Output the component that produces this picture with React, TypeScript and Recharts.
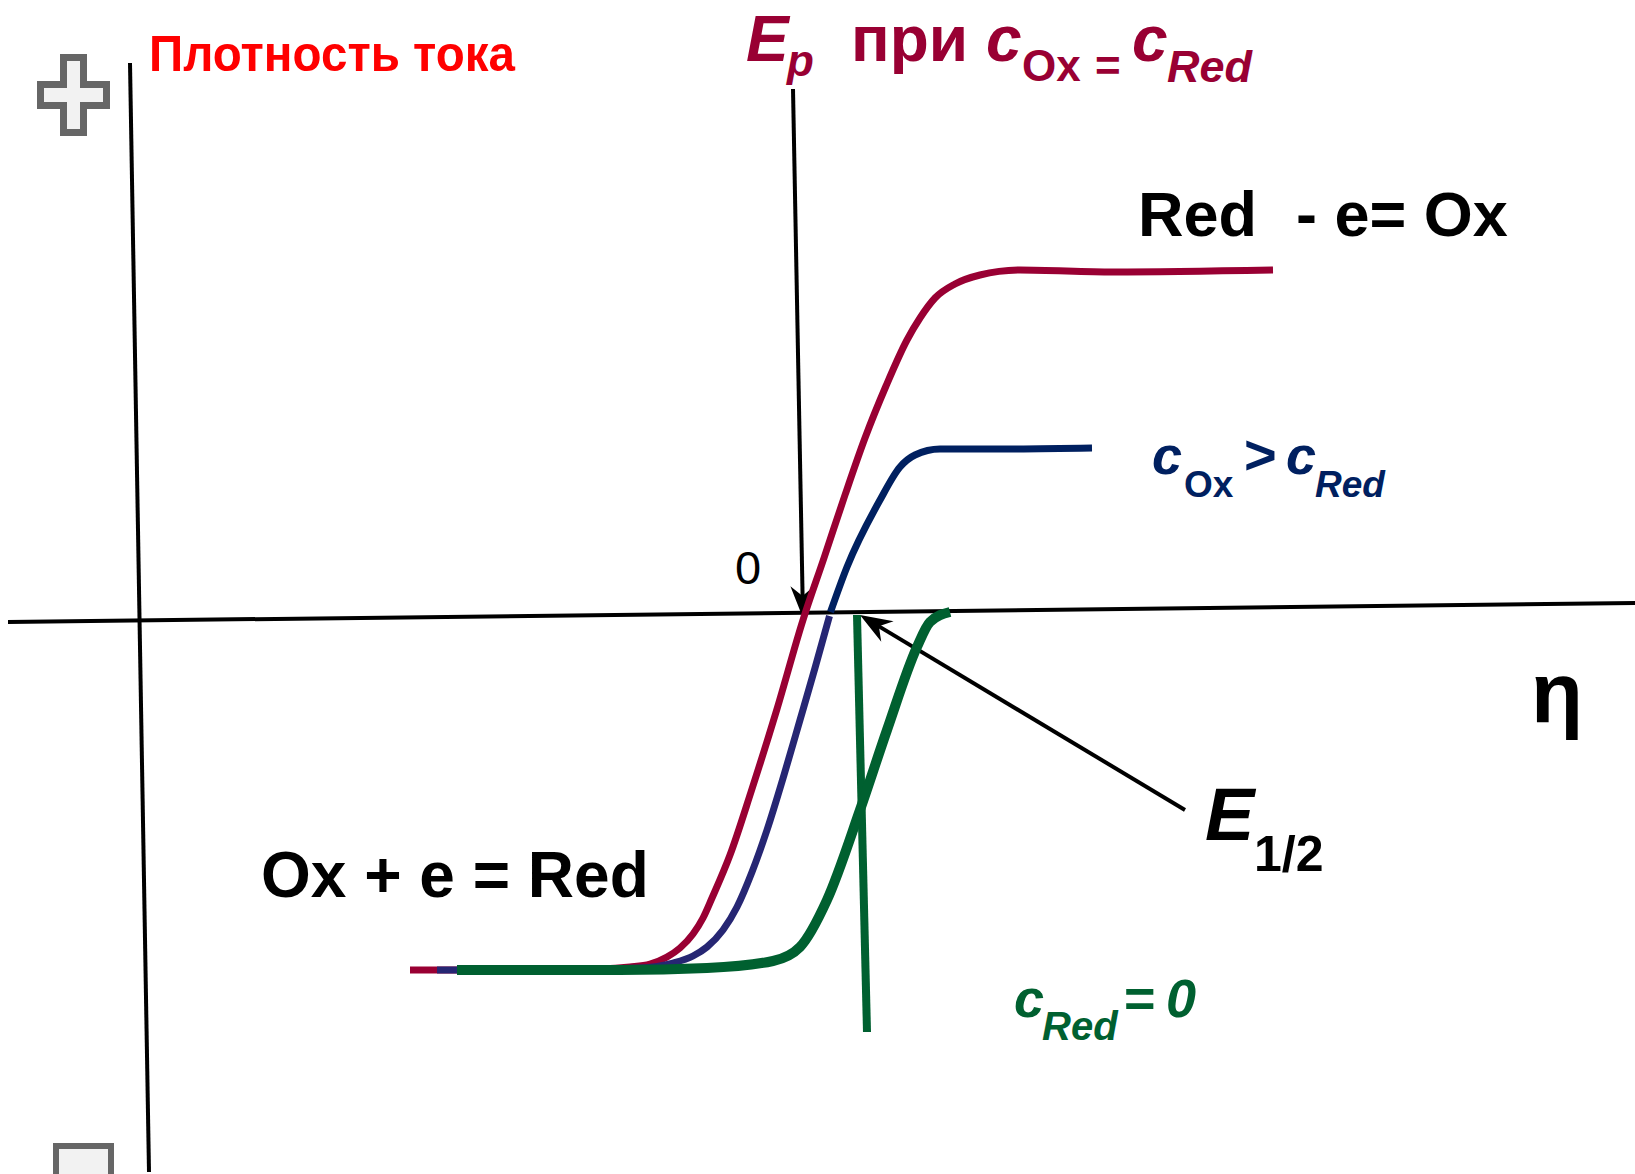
import { ComposedChart, Line, XAxis, YAxis, ReferenceLine } from "recharts"

const W = 1635
const H = 1174

// potential (η) and current density, arbitrary units
const X_DOMAIN: [number, number] = [-16, 16.7]
const Y_DOMAIN: [number, number] = [-11.2, 12.28]

// c_Ox = c_Red : full wave, cathodic -> anodic
const redX = [-7.8, -6.0, -4.0, -3.4, -3.0, -2.66, -2.4, -2.14, -1.94, -1.76, -1.4, -0.98, -0.46, 0.06, 0.48, 0.9, 1.3, 1.72, 2.14, 2.4, 2.7, 3.1, 3.6, 4.4, 6.26, 9.46]
const redY = [-7.12, -7.12, -7.1, -7.06, -7.0, -6.86, -6.68, -6.4, -6.08, -5.68, -4.82, -3.56, -1.9, -0.12, 1.12, 2.38, 3.52, 4.56, 5.48, 5.92, 6.32, 6.6, 6.78, 6.88, 6.84, 6.88]

// c_Ox > c_Red : cathodic branch and anodic branch
const blueLowX = [-7.26, -4.8, -3.2, -2.54, -2.14, -1.86, -1.54, -1.26, -0.96, -0.66, -0.32, 0.0, 0.3, 0.59]
const blueLowY = [-7.12, -7.12, -7.08, -6.98, -6.84, -6.66, -6.32, -5.86, -5.16, -4.32, -3.22, -2.12, -1.08, -0.04]
const blueHighX = [0.61, 0.94, 1.6, 2.0, 2.3, 2.8, 4.0, 5.84]
const blueHighY = [0.04, 0.94, 2.28, 2.94, 3.18, 3.3, 3.3, 3.32]

// c_Red = 0 : cathodic wave only
const greenX = [-6.86, -3.6, -1.86, -0.54, 0.0, 0.54, 1.2, 1.74, 2.34, 2.6, 3.0]
const greenY = [-7.12, -7.12, -7.08, -6.94, -6.66, -5.72, -3.92, -2.32, -0.66, -0.16, 0.04]

// axes and guide lines (segment ends)
const yAxisLine = [{ x: -13.4, y: 11.02 }, { x: -13.02, y: -11.16 }]
const xAxisLine = [{ x: -15.84, y: -0.16 }, { x: 16.7, y: 0.22 }]
const halfWaveLine = [{ x: 1.14, y: -0.02 }, { x: 1.34, y: -8.36 }]
const epArrow = [{ x: -0.14, y: 10.5 }, { x: 0.06, y: -0.08 }]
const e12Arrow = [{ x: 7.7, y: -3.92 }, { x: 1.2, y: -0.02 }]

const zip = (xs: number[], ys: number[]) => xs.map((x, i) => ({ x, y: ys[i] }))

const redData = zip(redX, redY)
const blueLowData = zip(blueLowX, blueLowY)
const blueHighData = zip(blueHighX, blueHighY)
const greenData = zip(greenX, greenY)

const RED = "#990033"
const NAVY = "#002060"
const INDIGO = "#262673"
const GREEN = "#006030"

const sans = "'Liberation Sans', Arial, Helvetica, sans-serif"
const narrow = "'Liberation Sans Narrow', 'Arial Narrow', 'Liberation Sans', sans-serif"

function ArrowLine(props: any) {
  const { x1, y1, x2, y2, stroke, strokeWidth } = props
  const dx = x2 - x1
  const dy = y2 - y1
  const len = Math.hypot(dx, dy) || 1
  const ux = dx / len
  const uy = dy / len
  const head = 32
  const half = 12
  const notch = 22
  const bx = x2 - ux * head
  const by = y2 - uy * head
  const px = -uy
  const py = ux
  const pts = [
    [x2, y2],
    [bx + px * half, by + py * half],
    [x2 - ux * notch, y2 - uy * notch],
    [bx - px * half, by - py * half],
  ]
    .map((p) => p.join(","))
    .join(" ")
  return (
    <g>
      <line x1={x1} y1={y1} x2={x2 - ux * 10} y2={y2 - uy * 10} stroke={stroke} strokeWidth={strokeWidth} />
      <polygon points={pts} fill={stroke} />
    </g>
  )
}

function Labels() {
  const b = { fontFamily: sans, fontWeight: 700 }
  const bi = { ...b, fontStyle: "italic" as const }
  return (
    <svg width={W} height={H} style={{ position: "absolute", left: 0, top: 0, pointerEvents: "none" }}>
      {/* zoom buttons */}
      <polygon
        points="63.5,57.5 83.5,57.5 83.5,84.5 106.5,84.5 106.5,105.5 83.5,105.5 83.5,132.5 63.5,132.5 63.5,105.5 40.5,105.5 40.5,84.5 63.5,84.5"
        fill="#f2f2f2"
        stroke="#666666"
        strokeWidth={7}
      />
      <rect x={56} y={1146} width={55} height={34} fill="#f2f2f2" stroke="#666666" strokeWidth={6} />

      <text x={149} y={71} fontSize={50} fontWeight={700} fontFamily={narrow} fill="#ff0000" textLength={366} lengthAdjust="spacingAndGlyphs">
        Плотность тока
      </text>

      <g fill={RED}>
        <text x={746} y={61} fontSize={64} {...bi}>E</text>
        <text x={787} y={76} fontSize={44} {...bi}>p</text>
        <text x={851} y={61} fontSize={64} {...b}>при</text>
        <text x={986} y={61} fontSize={64} {...bi}>c</text>
        <text x={1022} y={81} fontSize={44} {...b}>Ox</text>
        <text x={1095} y={81} fontSize={44} {...b}>=</text>
        <text x={1132} y={61} fontSize={64} {...bi}>c</text>
        <text x={1167} y={82} fontSize={45} {...bi}>Red</text>
      </g>

      <g fill="#000000">
        <text x={1138} y={236} fontSize={63} {...b}>Red</text>
        <text x={1296} y={236} fontSize={63} {...b}>- e= Ox</text>
        <text x={735} y={584} fontSize={47} fontFamily={sans}>0</text>
        <text x={1531} y={722} fontSize={85} {...b}>η</text>
        <text x={1205} y={840} fontSize={74} {...bi}>E</text>
        <text x={1254} y={871} fontSize={50} {...b}>1/2</text>
        <text x={261} y={897} fontSize={64} {...b}>Ox + e = Red</text>
      </g>

      <g fill={NAVY}>
        <text x={1152} y={474} fontSize={54} {...bi}>c</text>
        <text x={1184} y={497} fontSize={37} {...b}>Ox</text>
        <text x={1244} y={474} fontSize={56} {...b}>&gt;</text>
        <text x={1286} y={474} fontSize={54} {...bi}>c</text>
        <text x={1315} y={497} fontSize={37} {...bi}>Red</text>
      </g>

      <g fill={GREEN}>
        <text x={1014} y={1017} fontSize={54} {...bi}>c</text>
        <text x={1042} y={1040} fontSize={40} {...bi}>Red</text>
        <text x={1124} y={1017} fontSize={54} {...b}>=</text>
        <text x={1166} y={1017} fontSize={54} {...bi}>0</text>
      </g>
    </svg>
  )
}

export default function App() {
  const lineProps = { type: "monotone" as const, dot: false, activeDot: false, isAnimationActive: false }
  return (
    <div style={{ position: "absolute", left: 0, top: 0, width: W, height: H, background: "#ffffff" }}>
      <ComposedChart width={W} height={H} margin={{ top: 0, right: 0, bottom: 0, left: 0 }}>
        <XAxis type="number" dataKey="x" domain={X_DOMAIN} hide allowDataOverflow />
        <YAxis type="number" dataKey="y" domain={Y_DOMAIN} hide allowDataOverflow />

        <ReferenceLine segment={yAxisLine} stroke="#000000" strokeWidth={4} />
        <ReferenceLine segment={xAxisLine} stroke="#000000" strokeWidth={4} />
        <ReferenceLine segment={epArrow} stroke="#000000" strokeWidth={4} shape={ArrowLine} />
        <ReferenceLine segment={e12Arrow} stroke="#000000" strokeWidth={4} shape={ArrowLine} />

        <Line data={redData} dataKey="y" stroke={RED} strokeWidth={7} {...lineProps} />
        <Line data={blueLowData} dataKey="y" stroke={INDIGO} strokeWidth={7} {...lineProps} />
        <Line data={blueHighData} dataKey="y" stroke={NAVY} strokeWidth={7} {...lineProps} />
        <ReferenceLine segment={halfWaveLine} stroke={GREEN} strokeWidth={8} />
        <Line data={greenData} dataKey="y" stroke={GREEN} strokeWidth={10} {...lineProps} />
      </ComposedChart>
      <Labels />
    </div>
  )
}
